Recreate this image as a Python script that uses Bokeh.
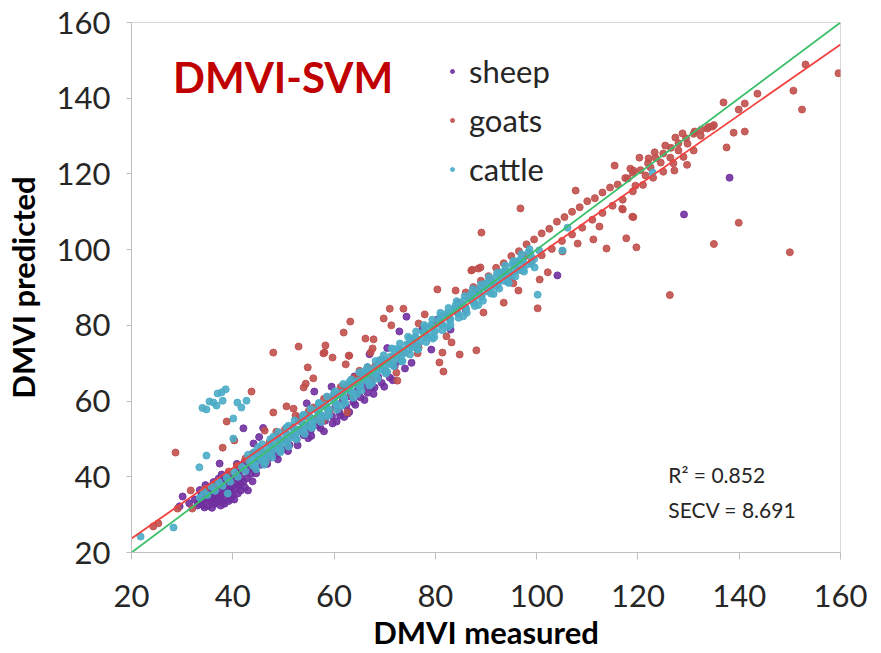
from bokeh.plotting import figure
from bokeh.models import Range1d, FixedTicker, Label, Legend, LegendItem
from bokeh.embed import file_html
from bokeh.resources import INLINE

# ---------------- data ----------------
x_ticks = [20, 40, 60, 80, 100, 120, 140, 160]
y_ticks = [20, 40, 60, 80, 100, 120, 140, 160]

# 1:1 line and regression fit line end points
diag_x = [20, 160]
diag_y = [20, 160]
fit_x = [20, 160]
fit_y = [23.7, 154.2]

x_title = "DMVI measured"
y_title = "DMVI predicted"
r2_text = "R\u00b2 = 0.852"
secv_text = "SECV = 8.691"

sheep_pts = [
    (32.5, 34.0), (33.2, 33.1), (33.8, 35.2), (34.1, 33.8), (34.5, 36.0), (34.9, 34.4), (35.2, 35.5),
    (35.5, 33.6), (35.8, 37.1), (36.0, 34.9), (36.3, 36.2), (36.6, 35.0), (36.9, 37.8), (37.1, 33.9),
    (37.4, 36.6), (37.7, 38.2), (37.9, 35.3), (38.2, 37.0), (38.5, 34.6), (38.7, 39.1), (39.0, 36.4),
    (39.3, 38.0), (39.5, 35.8), (39.8, 37.5), (40.1, 39.6), (40.4, 36.9), (40.6, 38.8), (40.9, 40.7),
    (41.2, 37.6), (41.5, 39.9), (41.8, 41.8), (42.1, 38.7), (36.4, 32.8), (38.0, 33.3), (39.6, 34.2),
    (35.0, 36.9), (37.2, 39.5), (40.0, 35.2), (41.0, 42.5), (33.5, 36.5), (34.4, 31.9),
    (33.0, 32.4), (34.0, 32.6), (35.1, 32.3), (35.9, 31.8), (36.8, 33.4), (37.6, 32.4), (38.4, 32.9),
    (39.2, 33.6), (40.3, 34.0), (41.0, 35.6), (41.6, 36.4), (42.4, 37.2), (42.8, 39.6), (43.0, 36.4),
    (39.1, 40.8), (38.3, 39.9), (36.2, 38.6), (34.6, 37.8), (37.8, 40.6), (40.8, 43.4), (42.3, 43.9),
    (43.6, 40.8), (43.9, 38.8), (35.7, 34.2), (37.5, 35.0), (39.4, 36.8), (41.4, 38.3), (33.9, 34.0),
    (30.1, 34.8), (29.5, 32.2), (31.4, 33.0), (37.4, 43.5), (42.1, 52.8), (44.1, 48.8), (46.0, 52.9),
    (45.2, 50.5),
    (42.8, 41.5), (43.5, 43.0), (44.2, 42.1), (45.0, 44.6), (45.6, 43.2), (46.3, 45.9), (47.0, 44.8),
    (47.8, 46.9), (48.5, 45.7), (49.1, 48.3), (49.8, 47.2), (50.5, 49.6), (51.2, 48.4), (51.9, 50.9),
    (52.6, 49.8), (53.3, 52.4), (54.0, 51.0), (54.7, 53.5), (55.4, 52.3), (56.1, 54.9), (56.8, 53.6),
    (57.5, 56.2), (58.2, 54.8), (58.9, 57.3), (59.6, 56.0), (60.3, 58.8), (61.0, 57.2), (61.7, 60.1),
    (62.4, 58.6), (63.1, 61.3), (63.8, 59.7), (64.5, 62.6), (65.2, 61.0), (65.9, 63.9), (66.6, 62.2),
    (67.3, 65.1), (68.0, 63.6), (68.7, 66.4), (69.4, 64.8), (70.1, 67.9), (71.0, 66.2), (72.0, 69.3),
    (73.2, 70.5), (58.0, 52.0), (60.5, 54.6), (63.0, 57.1), (55.5, 50.8), (62.0, 55.8), (66.0, 60.3),
    (57.0, 58.9), (53.0, 54.8), (59.7, 54.1), (62.7, 56.7), (67.4, 63.6),
    (44.6, 40.9), (46.8, 43.4), (48.9, 44.6), (50.9, 46.8), (52.8, 48.3), (54.9, 50.2), (57.3, 52.9),
    (61.2, 56.2), (64.2, 59.0), (67.8, 61.9), (69.9, 63.8), (71.6, 65.5), (74.0, 68.6), (75.3, 70.1),
    (56.1, 62.5), (54.6, 59.4), (59.5, 63.8), (67.0, 72.4), (72.9, 78.4), (74.3, 82.3), (79.2, 73.6),
    (76.0, 76.2), (77.5, 79.0), (80.5, 81.6), (83.0, 78.9), (84.5, 86.0), (86.0, 84.1), (88.0, 89.4),
    (70.5, 74.0), (64.0, 66.5), (66.6, 68.9),
    (104.1, 93.2), (129.1, 109.3), (138.1, 119.0),
]

goats_pts = [
    (24.3, 26.9), (25.3, 27.7), (29.1, 31.6), (32.0, 31.6), (31.7, 36.4), (28.7, 46.4),
    (38.8, 54.6), (38.0, 47.7), (43.7, 62.5), (40.3, 49.6), (48.0, 57.0), (50.6, 58.6), (52.0, 58.0),
    (46.3, 52.2), (46.5, 43.8), (54.0, 63.6), (48.0, 72.8), (54.8, 68.9), (55.9, 66.0), (53.0, 74.4),
    (58.3, 74.7), (57.9, 72.6), (59.7, 71.5), (62.9, 72.0), (67.2, 72.8), (63.2, 81.0), (61.9, 78.1),
    (71.0, 84.4), (69.8, 81.8), (73.7, 84.4), (77.9, 82.9), (76.7, 80.5), (71.3, 80.0), (66.2, 76.5),
    (67.8, 76.3), (67.6, 73.9), (63.0, 72.0), (62.3, 69.7), (58.1, 72.8), (80.4, 89.5), (84.0, 89.2),
    (87.1, 94.5), (88.5, 95.0), (82.2, 77.1), (83.2, 75.5), (81.4, 72.8), (80.8, 70.2), (81.6, 67.8),
    (84.8, 72.3), (88.1, 73.4), (72.5, 65.4), (72.3, 67.5), (68.4, 69.1), (76.5, 72.6), (76.7, 74.1),
    (54.4, 64.6), (62.6, 57.0), (57.9, 54.9),
    (45.5, 47.0), (47.2, 48.9), (49.0, 50.2), (50.3, 52.5), (51.8, 53.1), (53.1, 55.6), (54.4, 56.0),
    (55.9, 58.3), (57.2, 58.9), (58.6, 61.0), (60.0, 61.5), (61.3, 63.7), (62.7, 64.0), (64.1, 66.2),
    (65.4, 66.7), (66.8, 68.5), (68.1, 69.2), (69.5, 71.0), (44.0, 46.2), (42.5, 44.8), (56.5, 55.2),
    (59.2, 57.6), (63.5, 61.8), (67.5, 66.0), (71.0, 70.2), (73.5, 72.9), (75.8, 75.1), (78.0, 77.8),
    (80.2, 80.5), (82.5, 82.4), (84.6, 85.1), (86.8, 87.3), (89.0, 89.9), (91.2, 91.6), (93.4, 94.0),
    (95.6, 96.1), (97.8, 98.3), (36.5, 38.0), (34.5, 36.8), (40.8, 42.9), (39.2, 41.4),
    (48.6, 51.9), (52.4, 56.2), (55.0, 57.4), (58.0, 60.6), (61.8, 62.9), (65.0, 68.0), (69.0, 70.6),
    (86.0, 88.7), (87.5, 90.1), (89.0, 91.8), (90.5, 93.0), (92.0, 95.2), (93.5, 96.4), (95.0, 98.3),
    (96.5, 99.6), (98.0, 101.4), (99.5, 102.7), (101.0, 104.3), (102.5, 105.5), (104.0, 107.4),
    (105.5, 108.6), (107.0, 110.0), (108.5, 111.2), (110.0, 112.8), (111.5, 113.6), (113.0, 115.1),
    (114.5, 116.4), (116.0, 117.2), (117.5, 118.9), (119.0, 120.3), (120.5, 121.0), (122.0, 122.8),
    (123.5, 124.2), (125.0, 125.4), (126.5, 126.9), (128.0, 128.1), (129.5, 129.4), (131.0, 130.6),
    (132.5, 131.7), (134.0, 132.4), (135.0, 132.9),
    (118.5, 121.4), (120.3, 124.3), (122.1, 124.1), (123.3, 125.7), (125.4, 127.5), (127.4, 129.6),
    (128.8, 130.7), (131.2, 131.2), (133.7, 132.0), (134.7, 132.5), (132.4, 130.1), (129.8, 128.0),
    (128.0, 126.2), (126.4, 124.3), (124.5, 123.0), (122.5, 121.7), (121.5, 119.6), (119.5, 116.9),
    (118.0, 118.8), (119.1, 120.9),
    (95.0, 93.0), (97.0, 94.6), (99.0, 96.8), (101.0, 98.5), (103.0, 100.2), (105.0, 102.3),
    (107.0, 104.0), (109.0, 105.8), (111.0, 107.9), (113.0, 109.7), (115.0, 111.6), (117.0, 113.2),
    (119.0, 115.4), (121.0, 117.1), (123.0, 119.0), (125.0, 120.6), (127.0, 122.8), (129.0, 124.5),
    (131.0, 126.2),
    (89.1, 104.5), (96.8, 110.9), (107.7, 115.6), (115.4, 122.2),
    (136.9, 138.9), (143.6, 141.2), (150.7, 142.0), (153.1, 148.9), (159.6, 146.6), (152.4, 137.0),
    (139.9, 137.0), (141.1, 138.6), (138.9, 130.9), (141.1, 131.2), (137.5, 127.0), (129.7, 122.4),
    (127.2, 120.9), (116.9, 110.8), (119.1, 108.6), (117.7, 103.0), (119.7, 100.6), (135.0, 101.5),
    (139.9, 107.1), (150.0, 99.3), (126.3, 88.0),
    (102.2, 94.0), (100.6, 92.1), (95.4, 91.1), (96.4, 89.2), (93.5, 86.0), (89.5, 83.4), (100.2, 84.5),
    (105.1, 99.5), (108.1, 101.6), (111.2, 102.7), (113.8, 100.3), (112.4, 106.1), (117.0, 110.6),
    (118.9, 108.7), (87.3, 94.7), (88.9, 95.3),
]

cattle_pts = [
    (21.8, 24.2), (28.3, 26.6), (34.0, 58.2), (34.8, 57.8), (35.4, 59.9), (36.2, 59.6), (37.0, 62.0),
    (37.8, 62.3), (38.6, 63.1), (38.0, 60.1), (36.8, 58.8), (40.9, 59.6), (41.7, 58.3), (42.7, 60.1),
    (40.1, 55.4), (40.1, 50.1), (34.8, 45.6), (33.4, 42.5), (100.2, 88.1), (99.6, 95.3), (105.1, 99.8),
    (106.1, 105.8), (122.9, 120.4),
    (33.5, 34.5), (34.2, 36.1), (35.0, 35.2), (35.8, 37.4), (36.5, 36.3), (37.3, 38.6), (38.0, 37.6),
    (38.8, 39.8), (39.5, 38.7), (40.3, 41.2), (41.0, 40.0), (41.8, 42.6), (42.5, 41.5), (43.3, 44.0),
    (44.0, 42.9), (44.8, 45.4), (45.5, 44.4), (46.3, 46.8), (47.0, 45.9), (47.8, 48.3), (48.5, 47.4),
    (49.3, 49.8), (50.0, 48.9), (50.8, 51.2), (51.5, 50.4), (52.3, 52.7), (53.0, 51.9), (53.8, 54.1),
    (54.5, 53.4), (55.3, 55.6), (56.0, 54.9), (56.8, 57.1), (57.5, 56.3), (58.3, 58.6), (59.0, 57.8),
    (59.8, 60.1), (60.5, 59.3), (61.3, 61.6), (62.0, 60.8), (62.8, 63.0), (63.5, 62.3), (64.3, 64.5),
    (65.0, 63.8), (65.8, 66.0), (66.5, 65.3), (67.3, 67.5), (68.0, 66.8), (68.8, 69.0), (69.5, 68.3),
    (70.3, 70.5), (71.0, 69.8), (71.8, 72.0), (72.5, 71.2), (73.3, 73.5), (74.0, 72.7), (74.8, 75.0),
    (75.5, 74.2), (76.3, 76.5), (77.0, 75.7), (77.8, 78.0), (78.5, 77.1), (79.3, 79.5), (80.0, 78.6),
    (80.8, 81.0), (81.5, 80.1), (82.3, 82.5), (83.0, 81.6), (83.8, 84.0), (84.5, 83.0), (85.3, 85.5),
    (86.0, 84.5), (86.8, 87.0), (87.5, 86.0), (88.3, 88.5), (89.0, 87.4), (89.8, 89.9), (90.5, 88.9),
    (91.3, 91.4), (92.0, 90.3), (92.8, 92.9), (93.5, 91.8), (94.3, 94.3), (95.0, 93.2), (95.8, 95.8),
    (96.5, 94.6), (97.3, 97.2), (98.0, 96.0), (98.8, 98.6), (99.5, 97.5), (100.5, 99.8),
    (45.0, 47.8), (48.0, 50.6), (51.0, 53.5), (54.0, 56.4), (57.0, 59.3), (60.0, 62.1), (63.0, 65.0),
    (66.0, 67.9), (69.0, 70.8), (72.0, 73.7), (75.0, 76.6), (78.0, 79.5), (81.0, 82.4), (84.0, 85.3),
    (87.0, 88.2), (90.0, 91.1), (93.0, 94.0), (96.0, 96.9), (46.5, 44.0), (49.5, 47.0), (52.5, 50.0),
    (55.5, 52.9), (58.5, 55.9), (61.5, 58.8), (64.5, 61.8), (67.5, 64.7), (70.5, 67.7), (73.5, 70.6),
    (76.5, 73.6), (79.5, 76.5), (82.5, 79.5), (85.5, 82.4), (88.5, 85.4), (91.5, 88.3), (94.5, 91.2),
    (97.5, 94.2), (37.2, 38.2), (39.0, 35.6), (43.0, 45.8),
    (44.2, 46.5), (45.8, 48.6), (47.4, 49.9), (49.0, 51.8), (50.6, 53.0), (52.2, 54.9), (53.8, 56.1),
    (55.4, 58.0), (57.0, 59.5), (58.6, 61.2), (60.2, 62.6), (61.8, 64.5), (63.4, 65.7), (65.0, 67.6),
    (66.6, 69.0), (68.2, 70.6), (69.8, 72.1), (71.4, 73.9), (73.0, 75.2), (74.6, 77.0), (76.2, 78.4),
    (77.8, 80.1), (79.4, 81.5), (81.0, 83.3), (82.6, 84.6), (84.2, 86.4), (85.8, 87.7), (87.4, 89.6),
    (89.0, 90.8), (90.6, 92.7), (92.2, 93.9), (93.8, 95.8), (95.4, 97.0), (97.0, 98.8), (98.6, 100.1),
    (44.6, 42.0), (46.2, 43.2), (47.8, 45.1), (49.4, 46.5), (51.0, 48.0), (52.6, 49.9), (54.2, 51.3),
    (55.8, 53.2), (57.4, 54.5), (59.0, 56.3), (60.6, 57.7), (62.2, 59.5), (63.8, 60.9), (65.4, 62.8),
    (67.0, 64.1), (68.6, 65.9), (70.2, 67.3), (71.8, 69.2), (73.4, 70.5), (75.0, 72.3), (76.6, 73.7),
    (78.2, 75.6), (79.8, 76.9), (81.4, 78.7), (83.0, 80.1), (84.6, 82.0), (86.2, 83.3), (87.8, 85.1),
    (89.4, 86.5), (91.0, 88.4), (92.6, 89.7), (94.2, 91.5), (95.8, 92.9), (97.4, 94.8), (99.0, 96.2),
    (44.0, 44.9), (45.6, 46.2), (47.2, 48.1), (48.8, 49.4), (50.4, 51.3), (52.0, 52.6), (53.6, 54.5),
    (55.2, 55.8), (56.8, 57.7), (58.4, 59.0), (60.0, 60.9), (61.6, 62.2), (63.2, 64.1), (64.8, 65.4),
    (66.4, 67.3), (68.0, 68.6), (69.6, 70.5), (71.2, 71.8), (72.8, 73.7), (74.4, 75.0), (76.0, 76.9),
    (77.6, 78.2), (79.2, 80.1), (80.8, 81.4), (82.4, 83.3), (84.0, 84.6), (85.6, 86.5), (87.2, 87.8),
    (88.8, 89.7), (90.4, 91.0), (92.0, 92.9), (93.6, 94.2), (95.2, 96.1), (96.8, 97.4), (98.4, 99.3),
    (44.4, 43.1), (46.0, 44.9), (47.6, 46.3), (49.2, 48.1), (50.8, 49.5), (52.4, 51.3), (54.0, 52.7),
    (55.6, 54.5), (57.2, 55.9), (58.8, 57.7), (60.4, 59.1), (62.0, 60.9), (63.6, 62.3), (65.2, 64.1),
    (66.8, 65.5), (68.4, 67.3), (70.0, 68.7), (71.6, 70.5), (73.2, 71.9), (74.8, 73.7), (76.4, 75.1),
    (78.0, 76.9), (79.6, 78.3), (81.2, 80.1), (82.8, 81.5), (84.4, 83.3), (86.0, 84.7), (87.6, 86.5),
    (89.2, 87.9), (90.8, 89.7), (92.4, 91.1), (94.0, 92.9), (95.6, 94.3), (97.2, 96.1),
]

sheep_x = [a for a, b in sheep_pts]
sheep_y = [b for a, b in sheep_pts]
goats_x = [a for a, b in goats_pts]
goats_y = [b for a, b in goats_pts]
cattle_x = [a for a, b in cattle_pts]
cattle_y = [b for a, b in cattle_pts]

# ---------------- figure ----------------
FONT = "Lato"
TXT = "#262626"
AX = "#BFBFBF"

p = figure(width=881, height=653, output_backend="svg", toolbar_location=None,
           x_range=Range1d(20, 160), y_range=Range1d(20, 160),
           min_border_left=131, min_border_right=41, min_border_top=22, min_border_bottom=101)
p.grid.visible = False
p.outline_line_color = "#D9D9D9"
p.background_fill_color = "white"
p.border_fill_color = "white"

for ax, ticks in ((p.xaxis, x_ticks), (p.yaxis, y_ticks)):
    ax.ticker = FixedTicker(ticks=ticks)
    ax.major_label_text_font = FONT
    ax.major_label_text_font_size = "31px"
    ax.major_label_text_color = TXT
    ax.axis_line_color = AX
    ax.major_tick_line_color = AX
    ax.major_tick_in = 0
    ax.minor_tick_line_color = None
    ax.axis_label_text_font = FONT
    ax.axis_label_text_font_size = "31px"
    ax.axis_label_text_font_style = "bold"
    ax.axis_label_text_color = "black"

p.xaxis.axis_label = x_title
p.xaxis.major_tick_out = 7
p.xaxis.major_label_standoff = 25
p.xaxis.axis_label_standoff = 3
p.yaxis.axis_label = y_title
p.yaxis.major_tick_out = 5
p.yaxis.major_label_standoff = 16
p.yaxis.axis_label_standoff = 12

r_sheep = p.scatter(sheep_x, sheep_y, size=7, fill_color="#7030A0", line_color="#7030A0", alpha=0.9)
r_goats = p.scatter(goats_x, goats_y, size=7, fill_color="#C0504D", line_color="#C0504D", alpha=0.9)
r_cattle = p.scatter(cattle_x, cattle_y, size=7, fill_color="#4BACC6", line_color="#4BACC6", alpha=0.9)

p.line(diag_x, diag_y, line_color="#3CBF6B", line_width=1.8)
p.line(fit_x, fit_y, line_color="#F2413F", line_width=1.8)

p.add_layout(Label(x=28.2, y=145.7, text="DMVI-SVM", text_font=FONT, text_font_size="42px",
                   text_font_style="bold", text_color="#C00000", text_baseline="middle"))
p.add_layout(Label(x=126.0, y=40.6, text=r2_text, text_font=FONT, text_font_size="21px",
                   text_color=TXT, text_baseline="middle"))
p.add_layout(Label(x=126.0, y=31.4, text=secv_text, text_font=FONT, text_font_size="21px",
                   text_color=TXT, text_baseline="middle"))

legend = Legend(items=[LegendItem(label="sheep", renderers=[r_sheep]),
                       LegendItem(label="goats", renderers=[r_goats]),
                       LegendItem(label="cattle", renderers=[r_cattle])],
                location=(316, 364), orientation="vertical",
                label_text_font=FONT, label_text_font_size="31px", label_text_color=TXT,
                glyph_width=10, glyph_height=34, label_height=34, label_standoff=12,
                spacing=11, padding=0, margin=0,
                border_line_alpha=0, background_fill_alpha=0)
p.add_layout(legend)

open("out.html", "w").write(file_html(p, INLINE))
